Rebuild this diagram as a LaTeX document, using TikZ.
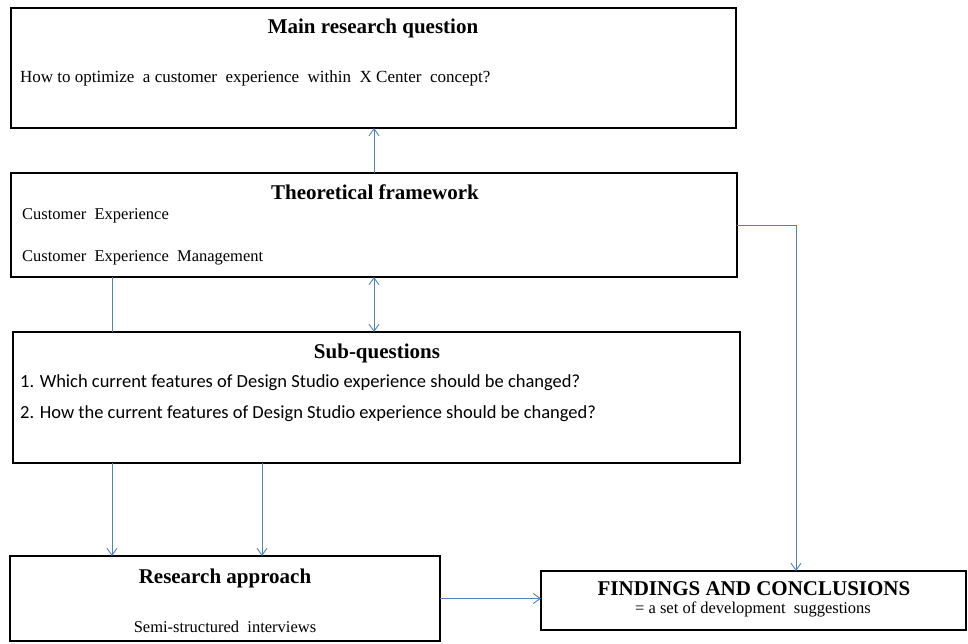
\documentclass[tikz,border=0pt]{standalone}
\usepackage{fontspec}
\setmainfont{Liberation Serif}
\newfontfamily\qfont{Carlito}
\usetikzlibrary{arrows.meta,calc}
\definecolor{linkblue}{RGB}{79,129,189}
\tikzset{
  frame/.style={draw=black,line width=2.6pt,anchor=north west,inner sep=0pt,outer sep=0pt},
  conn/.style={draw=linkblue,line width=0.9pt},
  barb/.tip={Straight Barb[length=7pt,width=10pt,line width=0.9pt]},
  tip/.style={-barb},
  title/.style={font=\fontsize{21}{23}\selectfont\bfseries,inner sep=0pt},
  body/.style={font=\fontsize{16.5}{19}\selectfont,inner sep=0pt},
  qtext/.style={font=\qfont\fontsize{18.5}{21}\selectfont,inner sep=0pt}
}
\begin{document}
\begin{tikzpicture}[x=1pt,y=-1pt]
\useasboundingbox (0,0) rectangle (968,643);
% boxes
\node[frame,minimum width=725pt,minimum height=120pt] (main) at (11,8) {};
\node[frame,minimum width=726pt,minimum height=104pt] (theo) at (11,173) {};
\node[frame,minimum width=727pt,minimum height=131pt] (sub) at (13,332) {};
\node[frame,minimum width=430pt,minimum height=85pt] (ra) at (10,556) {};
\node[frame,minimum width=425pt,minimum height=59pt] (fc) at (541,571) {};
% texts
\node[title,anchor=base] (mainT) at (373,33) {Main research question};
\node[body,font=\fontsize{17}{19}\selectfont,anchor=base west] (mainQ) at (20,82) {How to optimize \ a customer \ experience \ within \ X Center \ concept?};
\node[title,anchor=base] (theoT) at (375,199) {Theoretical framework};
\node[body,anchor=base west] (theo1) at (22,219) {Customer \ Experience};
\node[body,anchor=base west] (theo2) at (22,261) {Customer \ Experience \ Management};
\node[title,anchor=base] (subT) at (377,358) {Sub-questions};
\node[qtext,anchor=base west] (sub1) at (20,387) {1. Which current features of Design Studio experience should be changed?};
\node[qtext,anchor=base west] (sub2) at (20,418) {2. How the current features of Design Studio experience should be changed?};
\node[title,anchor=base] (raT) at (225,583) {Research approach};
\node[body,anchor=base] (ra1) at (225,632) {Semi-structured \ interviews};
\node[title,anchor=base] (fcT) at (754,595) {FINDINGS AND CONCLUSIONS};
\node[body,anchor=base] (fc1) at (753,613) {= a set of development \ suggestions};
% connectors
\coordinate (xa) at (112,0);
\coordinate (xb) at (262,0);
\coordinate (xc) at (374,0);
\coordinate (xd) at (796,0);
\draw[conn,tip] (theo.north -| xc) -- (main.south -| xc);
\draw[conn,barb-barb] (theo.south -| xc) -- (sub.north -| xc);
\draw[conn] (theo.south -| xa) -- (sub.north -| xa);
\draw[conn,tip] (sub.south -| xa) -- (ra.north -| xa);
\draw[conn,tip] (sub.south -| xb) -- (ra.north -| xb);
\draw[conn,tip] (theo.east) -| (fc.north -| xd);
\draw[conn,tip] (ra.east) -- (ra.east -| fc.west);
\end{tikzpicture}
\end{document}
